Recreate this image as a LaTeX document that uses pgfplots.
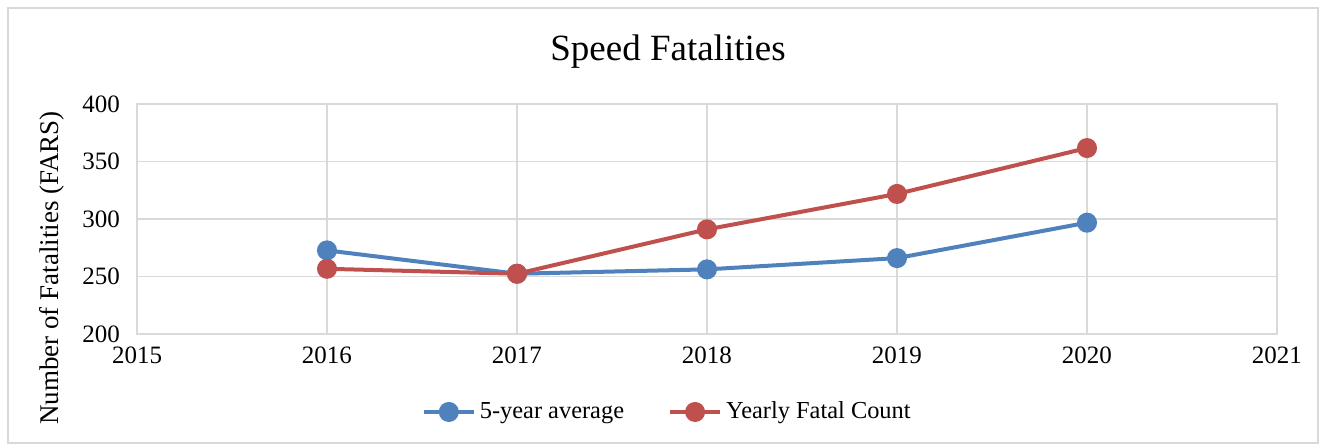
\documentclass[border=0pt]{standalone}
\usepackage{pgfplots}
\pgfplotsset{compat=1.18}
\usepackage{fontspec}
\setmainfont{Liberation Serif}
\definecolor{sblue}{HTML}{4F81BD}
\definecolor{sred}{HTML}{C0504D}
\definecolor{gridc}{HTML}{D9D9D9}
\begin{document}
\begin{tikzpicture}[x=1pt,y=1pt]
\path[use as bounding box] (0,0) rectangle (660,222.5);
\draw[gridc, line width=0.6pt] (4,1) rectangle (659,218.5);
\node[font=\fontsize{18.5}{21}\selectfont] at (334,196.5) {Speed Fatalities};
\begin{axis}[
  at={(68.5pt,55.5pt)}, anchor=south west,
  scale only axis, width=570pt, height=115pt,
  xmin=2015, xmax=2021, ymin=200, ymax=400,
  xtick={2015,...,2021}, ytick={200,250,...,400},
  xticklabel style={/pgf/number format/1000 sep={}, yshift=-3pt},
  yticklabel style={xshift=-5pt},
  /pgf/number format/assume math mode=true,
  tick label style={font=\fontsize{12.5}{14}\selectfont},
  grid=major, major grid style={gridc, line width=0.6pt},
  axis line style={gridc, line width=0.6pt},
  tick style={draw=none},
  ylabel={Number of Fatalities (FARS)},
  ylabel style={font=\fontsize{13.5}{15}\selectfont, at={(rel axis cs:-0.0746,0.287)}, anchor=center, rotate=0},
  legend columns=2,
  legend style={at={(0.466,-0.339)}, anchor=center, draw=none, fill=none, font=\fontsize{12.2}{14}\selectfont, /tikz/every even column/.append style={column sep=20pt}},
  legend image code/.code={\draw[#1, mark repeat=2, mark phase=2] plot coordinates {(0pt,0pt) (12.5pt,0pt) (25pt,0pt)};},
]
\addplot[sblue, line width=2pt, mark=*, mark size=4pt, mark options={fill=sblue}] coordinates {
(2016,272.7) (2017,252.4) (2018,256.2) (2019,266) (2020,296.8)};
\addlegendentry{5-year average}
\addplot[sred, line width=2pt, mark=*, mark size=4pt, mark options={fill=sred}] coordinates {
(2016,256.7) (2017,252.4) (2018,291) (2019,321.8) (2020,361.7)};
\addlegendentry{Yearly Fatal Count}
\end{axis}
\end{tikzpicture}
\end{document}
